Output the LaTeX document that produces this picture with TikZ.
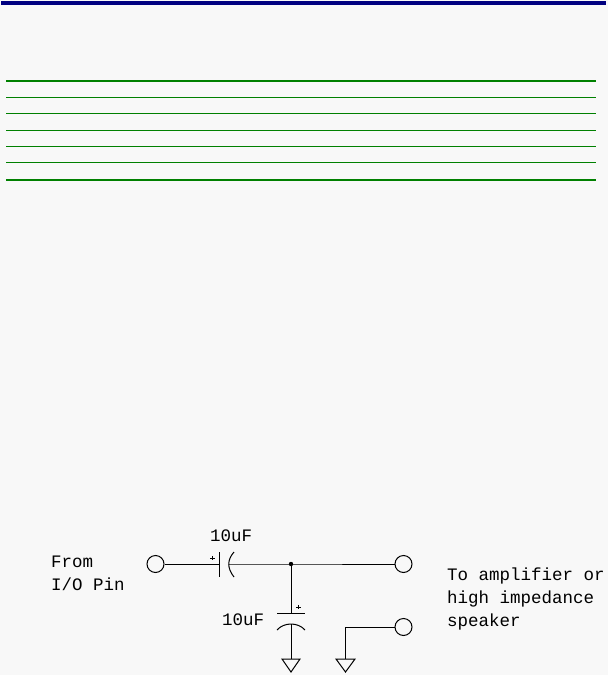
\documentclass[tikz,border=0pt]{standalone}
\usepackage{fontspec}
\newfontfamily\schfont{Liberation Mono}
\definecolor{bgc}{HTML}{F8F8F8}
\definecolor{barc}{HTML}{000080}
\definecolor{gc}{HTML}{008000}
\tikzset{
  wire/.style={draw=black, line width=1pt},
  term/.style={circle, draw=black, line width=1pt, minimum size=17pt, inner sep=0pt, fill=bgc},
  lbl/.style={anchor=base west, inner sep=0pt, font=\schfont\fontsize{17.5}{20}\selectfont},
  gthin/.style={draw=gc, line width=1pt},
  gthick/.style={draw=gc, line width=2.2pt},
  plus/.style={font=\fontsize{6}{6}\selectfont\bfseries, inner sep=0pt},
}
\begin{document}
\begin{tikzpicture}[x=1pt,y=-1pt]
\useasboundingbox (0,0) rectangle (608,675);
\fill[bgc] (0,0) rectangle (608,675);
% header bar and rules
\fill[barc] (1,1) rectangle (606,4.5);
\coordinate (l0) at (6,81); \coordinate (r0) at (596,81);
\draw[gthick] (l0) -- (r0);
\foreach \yy in {97,113,130,146,162} \draw[gthin] (6,\yy) -- (596,\yy);
\coordinate (l6) at (6,180); \coordinate (r6) at (596,180);
\draw[gthick] (l6) -- (r6);
% circuit
\node[term] (in) at (155.5,564) {};
\node[term] (out1) at (403.5,564) {};
\node[term] (out2) at (403.5,627) {};
\coordinate (c1a) at (219,564);
\coordinate (c1b) at (229,564);
\coordinate (j) at (291,564);
\coordinate (c2a) at (291,613);
\coordinate (c2b) at (291,624);
\coordinate (g1) at (291,659);
\coordinate (k) at (345,627);
\coordinate (g2) at (345,659);
\draw[wire] (in) -- (c1a);
\draw[wire] (219,552) -- (219,577);
\draw[wire] (234,552) .. controls (227,560) and (227,568) .. (234,577);
\draw[wire] (c1b) -- (j) -- (out1);
\fill (j) circle (2.2);
\draw[wire] (j) -- (c2a);
\draw[wire] (277,613) -- (305,613);
\draw[wire] (277,630) .. controls (284,622) and (298,622) .. (305,630);
\draw[wire] (c2b) -- (g1);
\draw[wire, line join=miter] (282,659) -- (300,659) -- (291,672) -- cycle;
\draw[wire] (out2) -- (k) -- (g2);
\draw[wire, line join=miter] (336,659) -- (355,659) -- (345.5,672) -- cycle;
% plus signs
\draw[line width=0.8pt] (210,558) -- (214.5,558) (212.25,555.75) -- (212.25,560.25);
\draw[line width=0.8pt] (296,607) -- (300.5,607) (298.25,604.75) -- (298.25,609.25);
% labels
\node[lbl] (t1) at (210,541) {10uF};
\node[lbl] (t2) at (222,625) {10uF};
\node[lbl] (t3) at (51,567) {From};
\node[lbl] (t4) at (51,590) {I/O Pin};
\node[lbl] (t5) at (447,580) {To amplifier or};
\node[lbl] (t6) at (447,603) {high impedance};
\node[lbl] (t7) at (447,626) {speaker};
\end{tikzpicture}
\end{document}
